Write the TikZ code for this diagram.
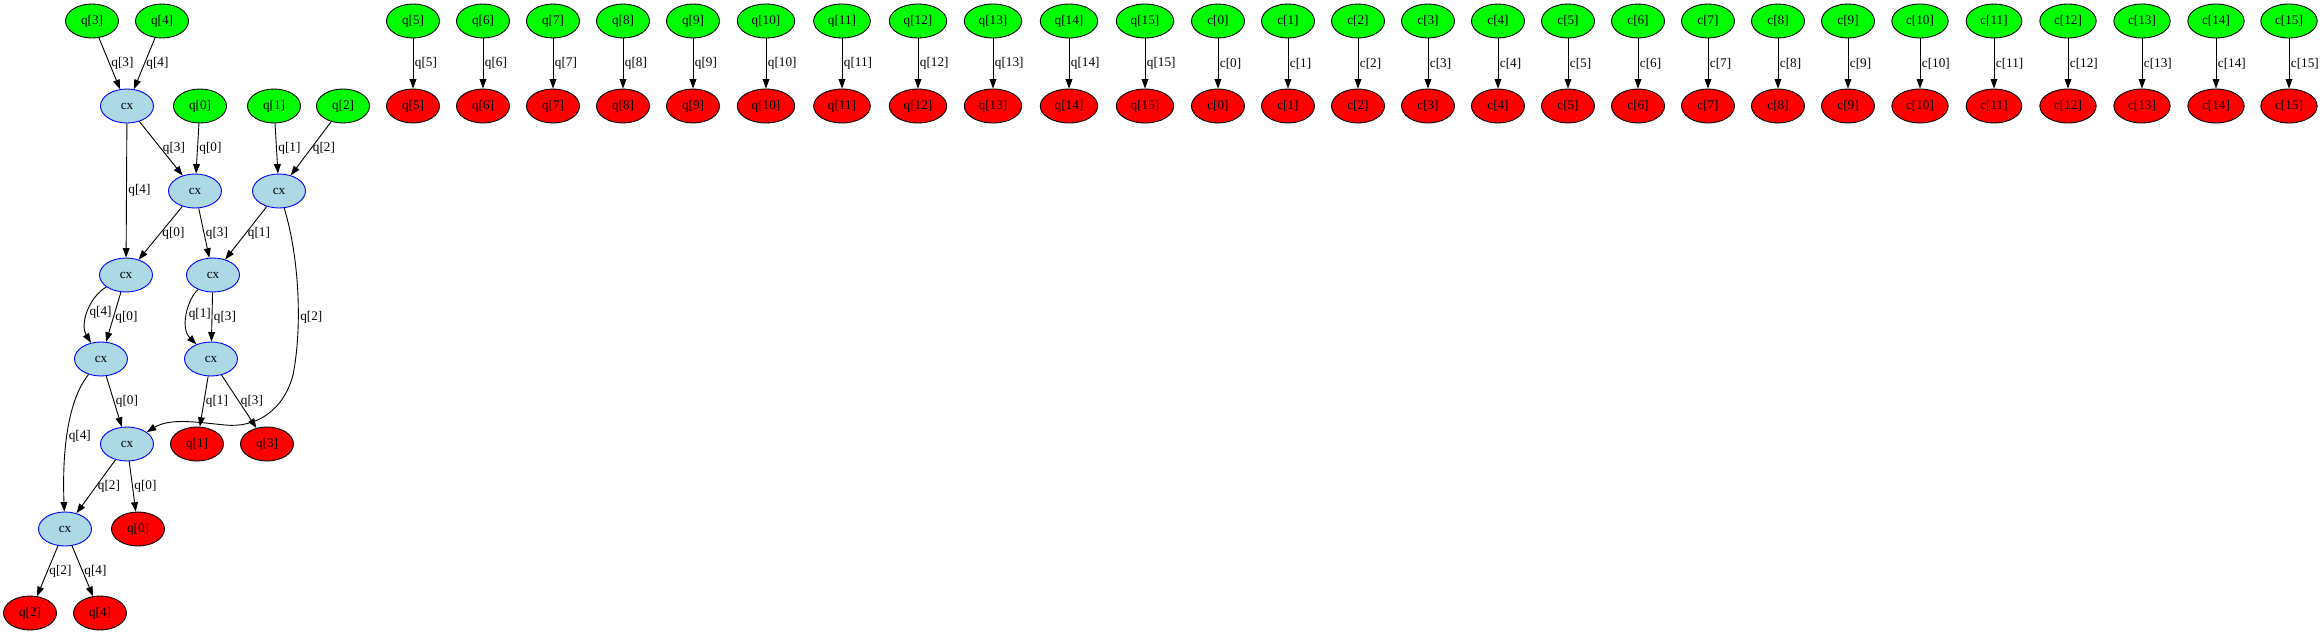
\documentclass[tikz,border=0pt]{standalone}
\usepackage{fontspec}
\setmainfont{Liberation Serif}
\usetikzlibrary{arrows.meta,shapes.geometric}
\definecolor{qgreen}{HTML}{00FF00}
\definecolor{qred}{HTML}{FF0000}
\definecolor{gatefill}{HTML}{ADD8E6}
\definecolor{gateline}{HTML}{0000FF}

\tikzset{
  wire/.style={ellipse, draw=black, line width=0.9pt, inner xsep=6pt, inner ysep=2pt,
    minimum width=53pt, minimum height=34pt, font=\fontsize{13.2}{15}\selectfont},
  qin/.style={wire, fill=qgreen},
  qout/.style={wire, fill=qred},
  gate/.style={wire, draw=gateline, fill=gatefill},
  conn/.style={line width=0.9pt, -{Triangle[length=9.5pt,width=6.8pt]}},
  lbl/.style={anchor=west, inner sep=1.5pt, font=\fontsize{13.2}{15}\selectfont},
}

\begin{document}
\begin{tikzpicture}[x=1pt,y=-1pt]
  \useasboundingbox (0,0) rectangle (2322,635);
  % idle wires
  \foreach \x/\r/\i in {413/q/5,483/q/6,553/q/7,623/q/8,693/q/9,766/q/10,842/q/11,918/q/12,
      993/q/13,1069/q/14,1145/q/15,1218/c/0,1288/c/1,1358/c/2,1428/c/3,1498/c/4,1568/c/5,
      1638/c/6,1708/c/7,1778/c/8,1848/c/9,1920/c/10,1994/c/11,2068/c/12,2142/c/13,2216/c/14,2289/c/15} {
    \node[qin] (in\r\i) at (\x,21) {\r[\i]};
    \node[qout] (out\r\i) at (\x,106) {\r[\i]};
    \draw[conn] (in\r\i) -- node[lbl] {\r[\i]} (out\r\i);
  }
  % circuit
  \node[qin] (inq3) at (92,21) {q[3]};
  \node[qin] (inq4) at (162,21) {q[4]};
  \node[gate] (cx1) at (127,106) {cx};
  \node[qin] (inq0) at (200,106) {q[0]};
  \node[qin] (inq1) at (274,106) {q[1]};
  \node[qin] (inq2) at (343,106) {q[2]};
  \node[gate] (cx2) at (195,191) {cx};
  \node[gate] (cx3) at (279,191) {cx};
  \node[gate] (cx4) at (126,275) {cx};
  \node[gate] (cx5) at (213,275) {cx};
  \node[gate] (cx6) at (101,359) {cx};
  \node[gate] (cx7) at (211,359) {cx};
  \node[gate] (cx8) at (127,444) {cx};
  \node[qout] (outq1) at (197,444) {q[1]};
  \node[qout] (outq3) at (267,444) {q[3]};
  \node[gate] (cx9) at (65,529) {cx};
  \node[qout] (outq0) at (138,529) {q[0]};
  \node[qout] (outq2) at (30,613) {q[2]};
  \node[qout] (outq4) at (100,613) {q[4]};

  \draw[conn] (inq3) -- node[lbl] {q[3]} (cx1);
  \draw[conn] (inq4) -- node[lbl] {q[4]} (cx1);
  \draw[conn] (cx1) -- node[lbl] {q[3]} (cx2);
  \draw[conn] (inq0) -- node[lbl] {q[0]} (cx2);
  \draw[conn] (inq1) -- node[lbl] {q[1]} (cx3);
  \draw[conn] (inq2) -- node[lbl] {q[2]} (cx3);
  \draw[conn] (cx1) -- node[lbl] {q[4]} (cx4);
  \draw[conn] (cx2) -- node[lbl] {q[0]} (cx4);
  \draw[conn] (cx2) -- node[lbl] {q[3]} (cx5);
  \draw[conn] (cx3) -- node[lbl] {q[1]} (cx5);
  \draw[conn] (cx4) .. controls (88,298) and (80,325) .. node[lbl] {q[4]} (cx6);
  \draw[conn] (cx4) -- node[lbl] {q[0]} (cx6);
  \draw[conn] (cx5) .. controls (187,300) and (180,328) .. node[lbl] {q[1]} (cx7);
  \draw[conn] (cx5) -- node[lbl] {q[3]} (cx7);
  \draw[conn] (cx3) .. controls (300,260) and (302,330) .. node[lbl,pos=0.63] {q[2]} (293,375)
    .. controls (283,412) and (255,428) .. (225,425)
    .. controls (195,422) and (170,418) .. (cx8);
  \draw[conn] (cx6) -- node[lbl] {q[0]} (cx8);
  \draw[conn] (cx6) .. controls (68,400) and (62,450) .. node[lbl,pos=0.55] {q[4]} (cx9);
  \draw[conn] (cx7) -- node[lbl] {q[1]} (outq1);
  \draw[conn] (cx7) -- node[lbl] {q[3]} (outq3);
  \draw[conn] (cx8) -- node[lbl] {q[2]} (cx9);
  \draw[conn] (cx8) -- node[lbl] {q[0]} (outq0);
  \draw[conn] (cx9) -- node[lbl] {q[2]} (outq2);
  \draw[conn] (cx9) -- node[lbl] {q[4]} (outq4);
\end{tikzpicture}
\end{document}
